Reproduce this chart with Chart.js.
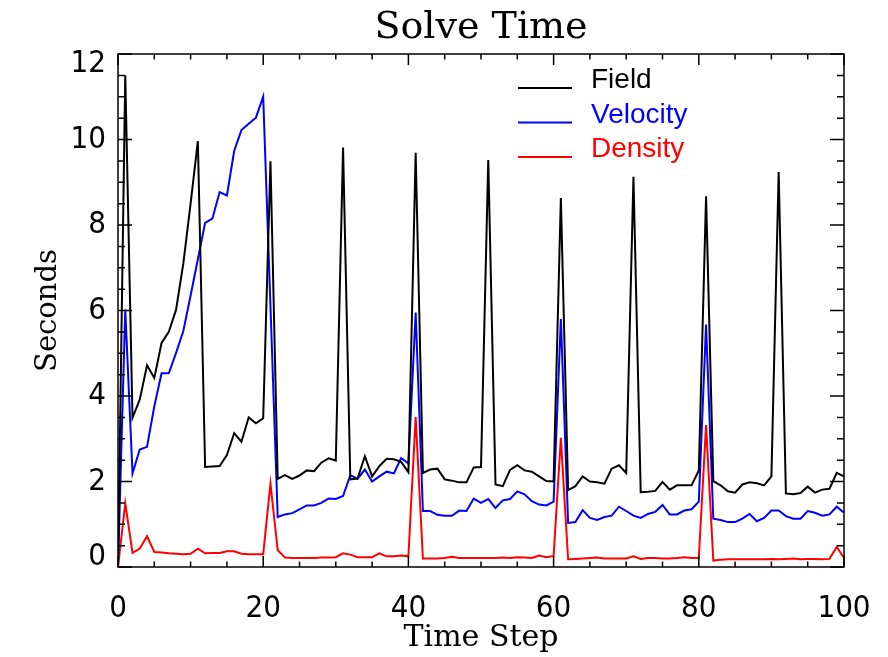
<!DOCTYPE html>
<html>
<head>
<meta charset="utf-8">
<title>Solve Time</title>
<script src="https://cdn.jsdelivr.net/npm/chart.js@4.4.1/dist/chart.umd.min.js"></script>
<style>
  html, body { margin: 0; padding: 0; background: #fff; }
  #wrap { width: 888px; height: 657px; }
</style>
</head>
<body>
<div id="wrap"><canvas id="chart" width="888" height="657"></canvas></div>
<script>
// values, one per time step 0..100
const field = [
  0, 11.5, 3.49, 3.92, 4.72, 4.42, 5.24, 5.50, 6.02, 7.1,
  8.5, 9.96, 2.34, 2.35, 2.36, 2.62, 3.13, 2.93, 3.50, 3.36,
  3.48, 9.49, 2.06, 2.15, 2.06, 2.14, 2.26, 2.24, 2.44, 2.54,
  2.49, 9.81, 2.05, 2.07, 2.59, 2.12, 2.36, 2.53, 2.52, 2.46,
  2.22, 9.69, 2.20, 2.28, 2.30, 2.05, 2.02, 1.98, 1.98, 2.33,
  2.34, 9.52, 1.93, 1.89, 2.27, 2.38, 2.26, 2.23, 2.12, 2.01,
  2.00, 8.63, 1.80, 1.89, 2.12, 2.00, 1.98, 1.95, 2.30, 2.38,
  2.20, 9.13, 1.75, 1.76, 1.78, 1.99, 1.81, 1.91, 1.91, 1.91,
  2.26, 8.67, 2.01, 1.91, 1.77, 1.74, 1.93, 1.98, 1.96, 1.91,
  2.12, 9.24, 1.72, 1.70, 1.73, 1.88, 1.74, 1.81, 1.83, 2.20,
  2.12
];
const velocity = [
  0, 6.02, 2.19, 2.75, 2.81, 3.76, 4.53, 4.53, 5.01, 5.52,
  6.35, 7.2, 8.05, 8.15, 8.77, 8.69, 9.73, 10.22, 10.37, 10.51,
  11.0, 6.1, 1.17, 1.23, 1.26, 1.35, 1.44, 1.44, 1.50, 1.60,
  1.59, 1.66, 2.15, 2.06, 2.28, 2.00, 2.12, 2.23, 2.19, 2.55,
  2.42, 5.95, 1.31, 1.31, 1.22, 1.20, 1.20, 1.32, 1.31, 1.60,
  1.50, 1.59, 1.38, 1.56, 1.59, 1.77, 1.70, 1.54, 1.46, 1.44,
  1.53, 5.80, 1.03, 1.05, 1.33, 1.15, 1.10, 1.17, 1.20, 1.41,
  1.31, 1.20, 1.15, 1.24, 1.29, 1.45, 1.23, 1.23, 1.32, 1.35,
  1.53, 5.67, 1.13, 1.10, 1.05, 1.05, 1.13, 1.24, 1.07, 1.15,
  1.32, 1.32, 1.19, 1.13, 1.13, 1.31, 1.27, 1.20, 1.23, 1.41,
  1.27
];
const density = [
  0, 1.49, 0.33, 0.43, 0.72, 0.35, 0.34, 0.32, 0.31, 0.30,
  0.31, 0.43, 0.32, 0.33, 0.33, 0.37, 0.37, 0.31, 0.30, 0.30,
  0.30, 1.95, 0.39, 0.22, 0.21, 0.21, 0.21, 0.21, 0.22, 0.22,
  0.23, 0.32, 0.29, 0.23, 0.23, 0.23, 0.32, 0.25, 0.25, 0.27,
  0.25, 3.51, 0.20, 0.20, 0.20, 0.21, 0.24, 0.21, 0.21, 0.21,
  0.21, 0.21, 0.21, 0.22, 0.21, 0.23, 0.22, 0.21, 0.27, 0.23,
  0.26, 3.02, 0.18, 0.19, 0.20, 0.21, 0.22, 0.20, 0.20, 0.20,
  0.20, 0.25, 0.19, 0.21, 0.21, 0.20, 0.20, 0.21, 0.23, 0.21,
  0.21, 3.32, 0.15, 0.17, 0.18, 0.18, 0.18, 0.18, 0.18, 0.18,
  0.19, 0.18, 0.19, 0.20, 0.18, 0.19, 0.19, 0.18, 0.19, 0.47,
  0.21
];
const seriesNames = ["Field", "Velocity", "Density"];
const seriesColors = ["#000000", "#0000ff", "#ff0000"];

const tickFamily = "'Liberation Sans Narrow', 'DejaVu Sans Condensed', sans-serif";
const serif = "'DejaVu Serif', 'Liberation Serif', serif";

function toPoints(values) {
  return values.map((v, i) => ({ x: i, y: v }));
}

// the end labels of the y axis sit a little inside the frame: an empty
// second line moves them by half a line height
function yLabel(value) {
  if (value === 12) return ["", String(value)];
  if (value === 0) return [String(value), ""];
  return String(value);
}

// IDL-style frame: box round the plot, ticks pointing inwards on all four sides
const frameTicks = {
  id: "frameTicks",
  afterLayout(chart) {
    // centre the title over the plot area, not the whole canvas
    const t = chart.titleBlock;
    if (t) {
      t.left = chart.chartArea.left;
      t.right = chart.chartArea.right;
    }
  },
  afterDatasetsDraw(chart) {
    const { ctx, chartArea: a, scales: { x, y } } = chart;
    ctx.save();
    ctx.strokeStyle = "#000";
    ctx.lineWidth = 1.5;
    ctx.beginPath();
    for (let v = 0; v <= 100; v += 5) {
      const px = x.getPixelForValue(v);
      const len = v % 20 === 0 ? 11 : 5.5;
      ctx.moveTo(px, a.bottom);
      ctx.lineTo(px, a.bottom - len);
      ctx.moveTo(px, a.top);
      ctx.lineTo(px, a.top + len);
    }
    for (let v = 0; v <= 12; v += 0.5) {
      const py = y.getPixelForValue(v);
      const len = v % 2 === 0 ? 14 : 7;
      ctx.moveTo(a.left, py);
      ctx.lineTo(a.left + len, py);
      ctx.moveTo(a.right, py);
      ctx.lineTo(a.right - len, py);
    }
    ctx.stroke();
    ctx.strokeRect(a.left, a.top, a.right - a.left, a.bottom - a.top);
    ctx.restore();
  }
};

// legend inside the plot: short line then coloured name
const lineLegend = {
  id: "lineLegend",
  afterDraw(chart) {
    const { ctx } = chart;
    ctx.save();
    ctx.font = "28px 'Liberation Sans', Arial, sans-serif";
    ctx.textBaseline = "alphabetic";
    ctx.textAlign = "left";
    ctx.lineWidth = 2;
    chart.data.datasets.forEach((ds, i) => {
      const yy = 88 + i * 34.5;
      ctx.strokeStyle = ds.borderColor;
      ctx.beginPath();
      ctx.moveTo(518, yy);
      ctx.lineTo(572, yy);
      ctx.stroke();
      ctx.fillStyle = ds.borderColor;
      ctx.fillText(ds.label, 591, yy);
    });
    ctx.restore();
  }
};

const datasets = [field, velocity, density].map((vals, i) => ({
  label: seriesNames[i],
  data: toPoints(vals),
  borderColor: seriesColors[i],
  backgroundColor: seriesColors[i],
  borderWidth: 2,
  pointRadius: 0,
  tension: 0,
  fill: false
}));

new Chart(document.getElementById("chart"), {
  type: "line",
  data: { datasets },
  options: {
    responsive: false,
    animation: false,
    layout: { padding: { left: 0, right: 44, top: 0, bottom: 0 } },
    plugins: {
      legend: { display: false },
      tooltip: { enabled: false },
      title: {
        display: true,
        text: "Solve Time",
        color: "#000",
        font: { family: serif, size: 38, weight: "normal" },
        padding: { top: 5, bottom: 3.4 }
      }
    },
    scales: {
      x: {
        type: "linear",
        min: 0,
        max: 100,
        // an invisible tick mark pushes the labels down without widening the right margin
        ticks: { stepSize: 20, color: "#000", font: { family: tickFamily, size: 31 }, padding: 3, maxRotation: 0 },
        grid: { display: false, drawTicks: true, tickLength: 20, tickColor: "rgba(0,0,0,0)" },
        border: { display: false },
        title: {
          display: true,
          text: "Time Step",
          color: "#000",
          font: { family: serif, size: 30, weight: "normal" },
          padding: { top: 0, bottom: 1 }
        },
        afterFit(scale) { scale.height = 90; }
      },
      y: {
        min: 0,
        max: 12,
        ticks: {
          stepSize: 2,
          color: "#000",
          font: { family: tickFamily, size: 31, lineHeight: "20px" },
          padding: 12,
          callback: yLabel
        },
        grid: { display: false, drawTicks: false },
        border: { display: false },
        title: {
          display: true,
          text: "Seconds",
          color: "#000",
          font: { family: serif, size: 29, weight: "normal" },
          padding: { top: 31, bottom: 0 }
        },
        afterFit(scale) { scale.width = 118; }
      }
    }
  },
  plugins: [frameTicks, lineLegend]
});
</script>
</body>
</html>
